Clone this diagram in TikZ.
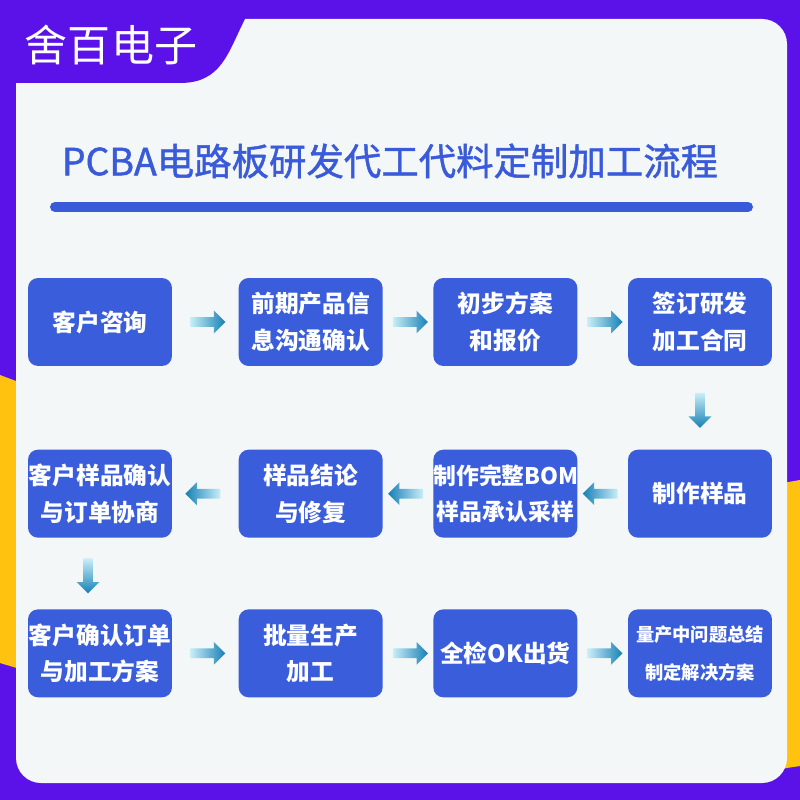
\documentclass[tikz,border=0pt]{standalone}
\usepackage{fontspec}
\setmainfont{Noto Sans CJK SC}
\newfontfamily\titlefont[FakeBold=1.2]{Noto Sans CJK SC}
\usetikzlibrary{shapes.arrows, positioning, calc}

\definecolor{bgpurple}{HTML}{5A12E8}
\definecolor{sideyellow}{HTML}{FFC20E}
\definecolor{panelwhite}{HTML}{F4F7F8}
\definecolor{boxblue}{HTML}{3A5DDB}
\definecolor{titleblue}{HTML}{3A5BD9}
\definecolor{arrowlight}{HTML}{C8EEF8}
\definecolor{arrowdark}{HTML}{1780B5}

\begin{document}
\begin{tikzpicture}[
    x=0.02cm, y=-0.02cm,
    node distance=1.66cm and 1.0cm,
    stepbox/.style={fill=boxblue, rounded corners=0.2cm, text width=2.88cm, minimum height=1.76cm, inner sep=0pt, align=center, text=white, font=\bfseries\fontsize{13.5}{20.8}\selectfont},
    widebox/.style={stepbox, font=\bfseries\fontsize{13}{20.8}\selectfont},
    smallbox/.style={stepbox, font=\bfseries\fontsize{10.4}{21.5}\selectfont},
    flowarrow/.style={single arrow, draw=none, inner sep=0.09cm, minimum width=0.44cm, minimum height=0.7cm, single arrow head extend=0.13cm},
    rightarrow/.style={flowarrow, left color=arrowlight, right color=arrowdark},
    leftarrow/.style={flowarrow, shape border rotate=180, left color=arrowdark, right color=arrowlight},
    downarrow/.style={flowarrow, shape border rotate=270, top color=arrowlight, bottom color=arrowdark}
]
% Background and panel
\fill[bgpurple] (0,0) rectangle (800,800);
\fill[sideyellow] (0,375) -- (40,390) -- (40,675) -- (0,663) -- cycle;
\fill[sideyellow] (800,480) -- (760,487) -- (760,772) -- (800,766) -- cycle;
\fill[panelwhite, rounded corners=0.5cm] (16,19) rectangle (787,783);
\fill[bgpurple] (0,0) -- (250,0) -- (245,19) .. controls (228,52) and (222,83) .. (180,83) -- (0,83) -- cycle;

% Brand and title
\node[text=white, font=\fontsize{24.5}{28}\selectfont] (brand) at (111,45) {舍百电子};
\node[text=titleblue, font=\titlefont\fontsize{21.3}{24}\selectfont] (title) at (390,161) {PCBA电路板研发代工代料定制加工流程};
\draw[titleblue, line width=0.2cm, line cap=round] (55,207) -- (748,207);

% Row 1
\node[stepbox] (consult) at (100,322) {客户咨询};
\node[stepbox, right=1.32cm of consult] (inform) {前期产品信\\息沟通确认};
\node[stepbox, right=of inform] (quote) {初步方案\\和报价};
\node[stepbox, right=of quote] (contract) {签订研发\\加工合同};

% Row 2
\node[stepbox, below=of contract] (sample) {制作样品};
\node[widebox, left=of sample] (bom) {制作完整BOM\\样品承认采样};
\node[stepbox, left=of bom] (revise) {样品结论\\与修复};
\node[stepbox, left=1.32cm of revise] (confirm) {客户样品确认\\与订单协商};

% Row 3
\node[stepbox, below=1.42cm of confirm] (order) {客户确认订单\\与加工方案};
\node[stepbox, right=1.32cm of order] (produce) {批量生产\\加工};
\node[stepbox, right=of produce] (ship) {全检OK出货};
\node[smallbox, right=of ship] (review) {量产中问题总结\\制定解决方案};

% Arrows Row 1
\node[rightarrow] at ($(consult.east)!0.5!(inform.west)$) {};
\node[rightarrow] at ($(inform.east)!0.5!(quote.west)$) {};
\node[rightarrow] at ($(quote.east)!0.5!(contract.west)$) {};

% Arrow connecting rows
\node[downarrow] at ($(contract.south)!0.5!(sample.north)$) {};

% Arrows Row 2
\node[leftarrow] at ($(sample.west)!0.5!(bom.east)$) {};
\node[leftarrow] at ($(bom.west)!0.5!(revise.east)$) {};
\node[leftarrow] at ($(revise.west)!0.5!(confirm.east)$) {};

% Arrow connecting rows
\node[downarrow, xshift=-0.24cm] at ($(confirm.south)!0.5!(order.north)$) {};

% Arrows Row 3
\node[rightarrow] at ($(order.east)!0.5!(produce.west)$) {};
\node[rightarrow] at ($(produce.east)!0.5!(ship.west)$) {};
\node[rightarrow] at ($(ship.east)!0.5!(review.west)$) {};

\end{tikzpicture}
\end{document}
